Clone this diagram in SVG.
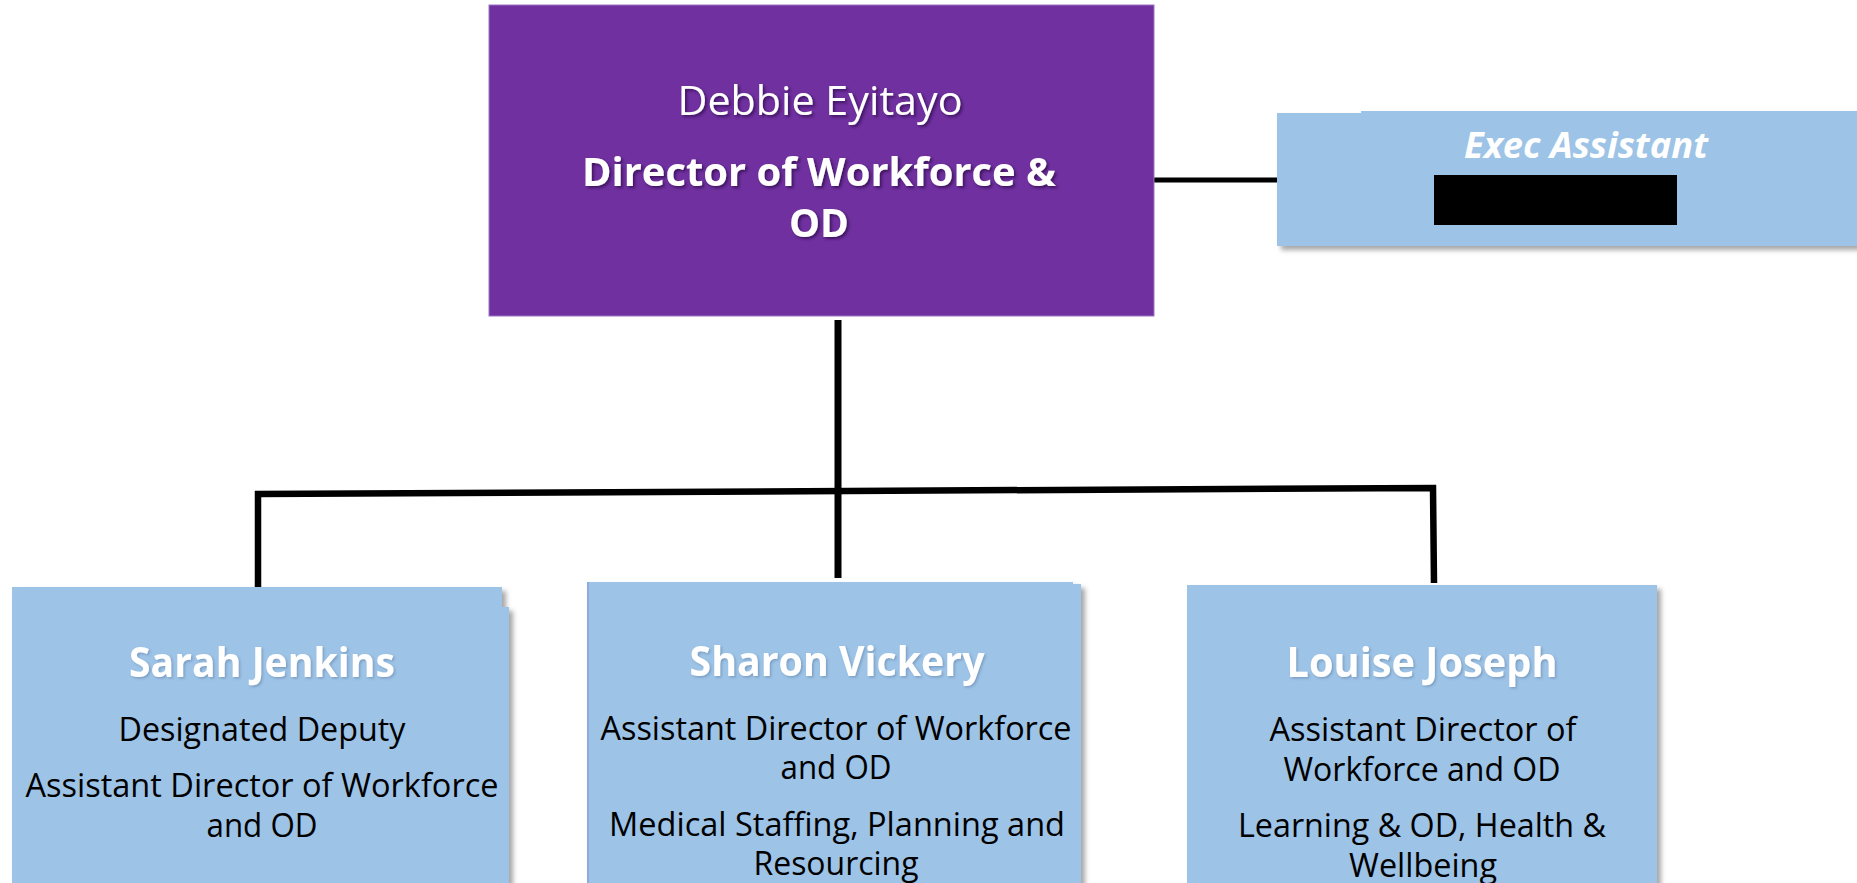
<svg xmlns="http://www.w3.org/2000/svg" width="1857" height="883" viewBox="0 0 1857 883">
<defs>
<filter id="boxShadow" x="-5%" y="-5%" width="115%" height="115%">
<feDropShadow dx="4" dy="4" stdDeviation="2.5" flood-color="#000" flood-opacity="0.35"/>
</filter>
<filter id="textShadow" x="-5%" y="-20%" width="110%" height="150%">
<feDropShadow dx="2" dy="2" stdDeviation="1.5" flood-color="#1a0030" flood-opacity="0.6"/>
</filter>
<filter id="nameShadow" x="-5%" y="-20%" width="110%" height="150%">
<feDropShadow dx="1.5" dy="1.5" stdDeviation="1.2" flood-color="#3a5a80" flood-opacity="0.35"/>
</filter>
</defs>
<style>
.blue{fill:#9DC3E6;}
.purple{fill:#7030A0;stroke:#9a72c4;stroke-width:1;}
.conn{fill:none;stroke:#000;stroke-linejoin:miter;stroke-linecap:butt;}
text{font-family:"Open Sans","Noto Sans","Liberation Sans",sans-serif;text-anchor:middle;}
.name{fill:#fff;font-weight:bold;font-size:42px;}
.body{fill:#000;font-size:32px;}
.dirName{fill:#fff;font-size:41px;}
.dirTitle{fill:#fff;font-weight:bold;font-size:40px;}
.exec{fill:#fff;font-weight:bold;font-style:italic;font-size:35px;}
</style>
<rect width="1857" height="883" fill="#fff"/>

<g id="connectors">
<line class="conn" x1="1154" y1="180" x2="1278" y2="180" stroke-width="5"/>
<line class="conn" x1="838" y1="320" x2="838" y2="578" stroke-width="7"/>
<path class="conn" d="M258,592 V494 L1433,488 L1434,583" stroke-width="6.5"/>
</g>

<g id="director">
<rect class="purple" x="489" y="5" width="665" height="311"/>
<g filter="url(#textShadow)">
<text class="dirName" x="820" y="115" textLength="285" lengthAdjust="spacingAndGlyphs">Debbie Eyitayo</text>
<text class="dirTitle" x="819" y="186" textLength="474" lengthAdjust="spacingAndGlyphs">Director of Workforce &amp;</text>
<text class="dirTitle" x="819" y="237" textLength="60" lengthAdjust="spacingAndGlyphs">OD</text>
</g>
</g>

<g id="exec-assistant">
<path class="blue" filter="url(#boxShadow)" d="M1277,113 H1361 V111 H1857 V246 H1277 Z"/>
<text class="exec" x="1586" y="158" textLength="244" lengthAdjust="spacingAndGlyphs">Exec Assistant</text>
<rect x="1434" y="175" width="243" height="50" fill="#000"/>
</g>

<g id="sarah-jenkins">
<path class="blue" filter="url(#boxShadow)" d="M12,587 H502 V607 H509 V890 H12 Z"/>
<text class="name" x="262" y="677" textLength="266" lengthAdjust="spacingAndGlyphs" filter="url(#nameShadow)">Sarah Jenkins</text>
<text class="body" x="262" y="741" textLength="287" lengthAdjust="spacingAndGlyphs">Designated Deputy</text>
<text class="body" x="262" y="797" textLength="473" lengthAdjust="spacingAndGlyphs">Assistant Director of Workforce</text>
<text class="body" x="262" y="837" textLength="111" lengthAdjust="spacingAndGlyphs">and OD</text>
</g>

<g id="sharon-vickery">
<path class="blue" filter="url(#boxShadow)" d="M587,582 H1073 V584 H1081 V890 H587 Z"/>
<line x1="588" y1="582" x2="588" y2="883" stroke="#8faadc" stroke-width="2"/>
<text class="name" x="837" y="676" textLength="295" lengthAdjust="spacingAndGlyphs" filter="url(#nameShadow)">Sharon Vickery</text>
<text class="body" x="836" y="740" textLength="471" lengthAdjust="spacingAndGlyphs">Assistant Director of Workforce</text>
<text class="body" x="836" y="779" textLength="111" lengthAdjust="spacingAndGlyphs">and OD</text>
<text class="body" x="837" y="836" textLength="456" lengthAdjust="spacingAndGlyphs">Medical Staffing, Planning and</text>
<text class="body" x="836" y="875" textLength="165" lengthAdjust="spacingAndGlyphs">Resourcing</text>
</g>

<g id="louise-joseph">
<rect class="blue" filter="url(#boxShadow)" x="1187" y="585" width="470" height="305"/>
<text class="name" x="1422" y="677" textLength="271" lengthAdjust="spacingAndGlyphs" filter="url(#nameShadow)">Louise Joseph</text>
<text class="body" x="1423" y="741" textLength="307" lengthAdjust="spacingAndGlyphs">Assistant Director of</text>
<text class="body" x="1422" y="781" textLength="277" lengthAdjust="spacingAndGlyphs">Workforce and OD</text>
<text class="body" x="1422" y="837" textLength="368" lengthAdjust="spacingAndGlyphs">Learning &amp; OD, Health &amp;</text>
<text class="body" x="1423" y="877" textLength="148" lengthAdjust="spacingAndGlyphs">Wellbeing</text>
</g>
</svg>
